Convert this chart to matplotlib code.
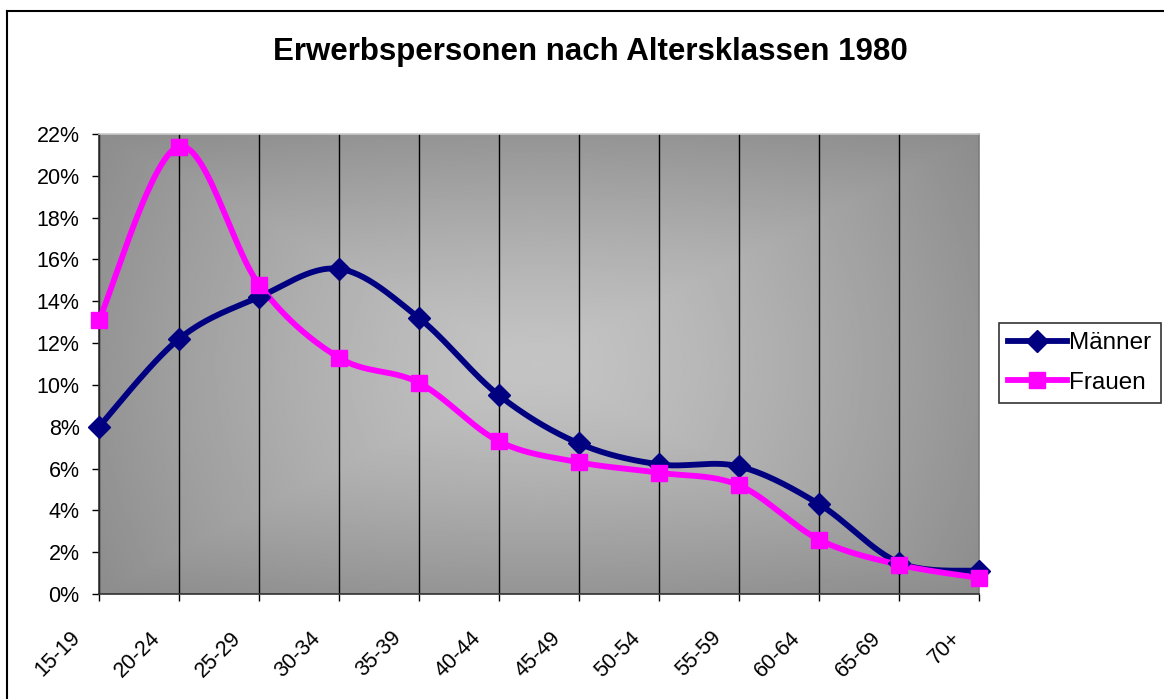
import numpy as np
import matplotlib
matplotlib.use("Agg")
import matplotlib.pyplot as plt
from matplotlib.lines import Line2D
from matplotlib.ticker import FuncFormatter, MultipleLocator
import matplotlib.transforms as mtransforms

plt.rcParams['font.family'] = ['Liberation Sans', 'DejaVu Sans']

title = "Erwerbspersonen nach Altersklassen 1980"
categories = ["15-19", "20-24", "25-29", "30-34", "35-39", "40-44",
              "45-49", "50-54", "55-59", "60-64", "65-69", "70+"]
maenner = [8.0, 12.2, 14.2, 15.55, 13.2, 9.5, 7.2, 6.2, 6.1, 4.3, 1.5, 1.1]
frauen = [13.1, 21.4, 14.8, 11.3, 10.1, 7.3, 6.3, 5.8, 5.2, 2.6, 1.4, 0.77]
series_names = ["Männer", "Frauen"]
series_colors = ["#000080", "#FF00FF"]


def excel_smooth(x, y, n=30):
    """Excel-style smoothed line: cubic Bezier with tangents (P[i+1]-P[i-1])/6."""
    x = np.asarray(x, float)
    y = np.asarray(y, float)
    px = np.concatenate([[x[0]], x, [x[-1]]])
    py = np.concatenate([[y[0]], y, [y[-1]]])
    xs, ys = [], []
    t = np.linspace(0, 1, n)
    for i in range(1, len(px) - 2):
        p0 = np.array([px[i], py[i]])
        p3 = np.array([px[i + 1], py[i + 1]])
        p1 = p0 + (np.array([px[i + 1], py[i + 1]]) - np.array([px[i - 1], py[i - 1]])) / 6
        p2 = p3 - (np.array([px[i + 2], py[i + 2]]) - np.array([px[i], py[i]])) / 6
        b = ((1 - t) ** 3)[:, None] * p0 + (3 * (1 - t) ** 2 * t)[:, None] * p1 \
            + (3 * (1 - t) * t ** 2)[:, None] * p2 + (t ** 3)[:, None] * p3
        xs.append(b[:, 0])
        ys.append(b[:, 1])
    return np.concatenate(xs), np.concatenate(ys)


W, H = 1164, 699
fig = plt.figure(figsize=(W / 100, H / 100), dpi=100)
fig.patch.set_facecolor('white')

# outer chart border
fig.add_artist(Line2D([7 / W, 7 / W], [0, 1 - 11 / H], transform=fig.transFigure,
                      color='black', lw=1.5))
fig.add_artist(Line2D([7 / W, 1], [1 - 11 / H, 1 - 11 / H], transform=fig.transFigure,
                      color='black', lw=1.5))

ax = fig.add_axes([99 / W, 1 - 594 / H, (979 - 99) / W, (594 - 134) / H])
n = len(categories)
xs = np.arange(n)
ax.set_xlim(0, n - 1)
ax.set_ylim(0, 22)

# gradient background ("from center" gradient)
gx = np.linspace(-1, 1, 400)
gy = np.linspace(-1, 1, 300)
GX, GY = np.meshgrid(gx, gy)
d = np.maximum(np.abs(GX), np.abs(GY)) * 0.6 + np.sqrt(GX ** 2 + GY ** 2) / np.sqrt(2) * 0.4
c_center, c_edge = 0.77, 0.55
img = c_center + (c_edge - c_center) * np.clip(d, 0, 1) ** 1.3
ax.imshow(img, extent=[0, n - 1, 0, 22], aspect='auto', cmap='gray', vmin=0, vmax=1,
          zorder=0, interpolation='bilinear')

for xi in xs:
    ax.axvline(xi, color='black', lw=1, zorder=1)

LW = 4.2
for vals, name, col, mk, ms in [(maenner, series_names[0], series_colors[0], 'D', 11),
                                (frauen, series_names[1], series_colors[1], 's', 11)]:
    sx, sy = excel_smooth(xs, vals)
    ax.plot(sx, sy, color=col, lw=LW, zorder=3, solid_capstyle='round',
            solid_joinstyle='round')
    ax.plot(xs, vals, linestyle='none', marker=mk, markersize=ms, color=col,
            markeredgecolor=col, zorder=4, clip_on=False)

ax.yaxis.set_major_locator(MultipleLocator(2))
ax.yaxis.set_major_formatter(FuncFormatter(lambda v, p: f"{v:.0f}%"))
ax.set_xticks(xs)
ax.set_xticklabels(categories, rotation=45, ha='right', va='top')
ax.tick_params(axis='both', direction='out', length=5, width=1, color='black',
               labelsize=15.5, labelcolor='black')
ax.tick_params(axis='y', pad=9)
ax.tick_params(axis='x', pad=19)
offset = mtransforms.ScaledTranslation(-14 / 100, 0, fig.dpi_scale_trans)
for lab in ax.get_xticklabels():
    lab.set_transform(lab.get_transform() + offset)

ax.spines['left'].set_color('#303030')
ax.spines['bottom'].set_color('#303030')
ax.spines['top'].set_color('#c8c8c8')
ax.spines['right'].set_color('#808080')
for s in ax.spines.values():
    s.set_linewidth(1.2)

fig.text(590 / W, 1 - 52 / H, title, ha='center', va='center', fontsize=22.5,
         fontweight='bold')

handles = [Line2D([], [], color=series_colors[0], lw=LW, marker='D', markersize=11),
           Line2D([], [], color=series_colors[1], lw=LW, marker='s', markersize=11)]
leg = fig.legend(handles, series_names, loc='upper left',
                 bbox_to_anchor=(999 / W, 1 - 323 / H), borderaxespad=0,
                 fontsize=17.5, frameon=True, fancybox=False, handlelength=2.4,
                 handletextpad=0.12, borderpad=0.38, labelspacing=0.72)
leg.get_frame().set_edgecolor('black')
leg.get_frame().set_linewidth(1.2)

fig.savefig('out.png', dpi=100)
